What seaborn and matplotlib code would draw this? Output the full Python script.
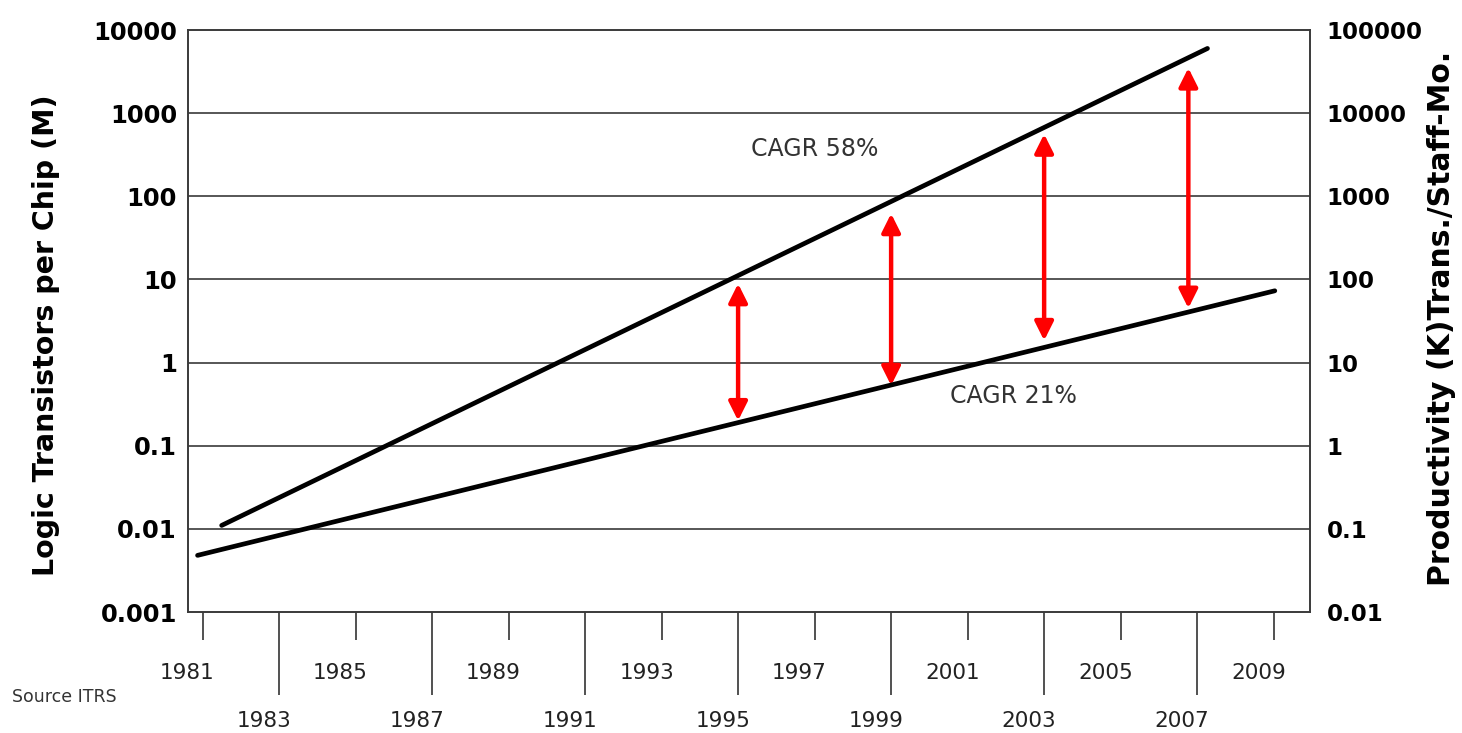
import numpy as np
import pandas as pd
import matplotlib
matplotlib.use("Agg")
import matplotlib.pyplot as plt
import matplotlib.transforms as mtransforms
from matplotlib.ticker import FixedLocator, FixedFormatter, NullLocator
import seaborn as sns

# 数据
trans_years = [1981.5, 2007.27]           # 逻辑晶体管曲线起止年份
trans_values = [0.011, 6000]              # 百万个/芯片
prod_years = [1980.87, 2009.03]           # 生产率曲线起止年份
prod_values = [0.048, 73]                 # 千个晶体管/人月（右轴）

gap_years = [1995, 1999, 2003, 2006.77]   # 红色双向箭头位置
gap_top = [8.9, 62, 560, 3500]            # 箭头上端（左轴单位）
gap_bottom = [0.2, 0.53, 1.84, 4.5]       # 箭头下端（左轴单位）

left_ticks = [0.001, 0.01, 0.1, 1, 10, 100, 1000, 10000]
left_labels = ["0.001", "0.01", "0.1", "1", "10", "100", "1000", "10000"]
right_ticks = [0.01, 0.1, 1, 10, 100, 1000, 10000, 100000]
right_labels = ["0.01", "0.1", "1", "10", "100", "1000", "10000", "100000"]

upper_years = [1981, 1985, 1989, 1993, 1997, 2001, 2005, 2009]
lower_years = [1983, 1987, 1991, 1995, 1999, 2003, 2007]

cagr_labels = ["CAGR 58%", "CAGR 21%"]
cagr_pos = [(1997.0, 370), (2002.2, 0.40)]

df_trans = pd.DataFrame({"year": trans_years, "value": trans_values})
df_prod = pd.DataFrame({"year": prod_years, "value": prod_values})

sns.set_style("white")
plt.rcParams["font.family"] = ["DejaVu Sans"]

fig = plt.figure(figsize=(14.62, 7.33), dpi=100)
ax = fig.add_axes([188 / 1462, 1 - 612 / 733, (1310 - 188) / 1462, (612 - 30) / 733])
ax2 = ax.twinx()

# 两条增长曲线
sns.lineplot(data=df_trans, x="year", y="value", ax=ax, color="black", linewidth=3.4)
sns.lineplot(data=df_prod, x="year", y="value", ax=ax2, color="black", linewidth=3.4)

ax.set_yscale("log")
ax2.set_yscale("log")
ax.set_ylim(0.001, 10000)
ax2.set_ylim(0.01, 100000)
ax.set_xlim(1980.62, 2009.95)

# 水平网格线
for v in left_ticks[1:-1]:
    ax.axhline(v, color="#3a3a3a", linewidth=1.2, zorder=0)

# 红色箭头
for x, top, bot in zip(gap_years, gap_top, gap_bottom):
    ax.annotate("", xy=(x, top), xytext=(x, bot),
                arrowprops=dict(arrowstyle="<|-|>", color="#ff0000", lw=3.2,
                                mutation_scale=28, shrinkA=0, shrinkB=0))

# 文字
for txt, (x, y) in zip(cagr_labels, cagr_pos):
    ax.text(x, y, txt, fontsize=17, color="#333333", ha="center", va="center")

# 左轴
ax.yaxis.set_major_locator(FixedLocator(left_ticks))
ax.yaxis.set_major_formatter(FixedFormatter(left_labels))
ax.yaxis.set_minor_locator(NullLocator())
ax.tick_params(axis="y", which="both", length=0, pad=8, labelsize=17.5, labelcolor="black")
for t in ax.get_yticklabels():
    t.set_fontweight("bold")
ax.set_ylabel("Logic Transistors per Chip (M)", fontsize=20.5, fontweight="bold", color="black")
ax.yaxis.set_label_coords(-0.114, 0.476)

# 右轴
ax2.yaxis.set_major_locator(FixedLocator(right_ticks))
ax2.yaxis.set_major_formatter(FixedFormatter(right_labels))
ax2.yaxis.set_minor_locator(NullLocator())
ax2.tick_params(axis="y", which="both", length=0, pad=12, labelsize=16.5, labelcolor="black")
for t in ax2.get_yticklabels():
    t.set_fontweight("bold")
ax2.set_ylabel("Productivity (K)Trans./Staff-Mo.", fontsize=21.5, fontweight="bold", color="black")
ax2.yaxis.set_label_coords(1.104, 0.505)

# x轴：两排年份，刻度线长短交替
ax.set_xticks(upper_years)
ax.set_xticklabels([str(y) for y in upper_years])
ax.set_xticks(lower_years, minor=True)
ax.set_xticklabels([str(y) for y in lower_years], minor=True)
ax.tick_params(axis="x", which="major", direction="out", length=20, width=1.1,
               color="#222222", pad=17, labelsize=15.5, labelcolor="#222222", bottom=True)
ax.tick_params(axis="x", which="minor", direction="out", length=60, width=1.1,
               color="#222222", pad=11, labelsize=15.5, labelcolor="#222222", bottom=True)
ax.set_xlabel("")
ax2.set_xlabel("")
shift = mtransforms.ScaledTranslation(-0.15, 0, fig.dpi_scale_trans)
for t in ax.get_xticklabels() + ax.get_xticklabels(minor=True):
    t.set_transform(t.get_transform() + shift)

for a in (ax, ax2):
    for s in a.spines.values():
        s.set_color("#3a3a3a")
        s.set_linewidth(1.2)

fig.text(12 / 1462, 1 - 697 / 733, "Source ITRS", fontsize=12.5, color="#333333", va="center")

fig.savefig("out.png", dpi=100)
